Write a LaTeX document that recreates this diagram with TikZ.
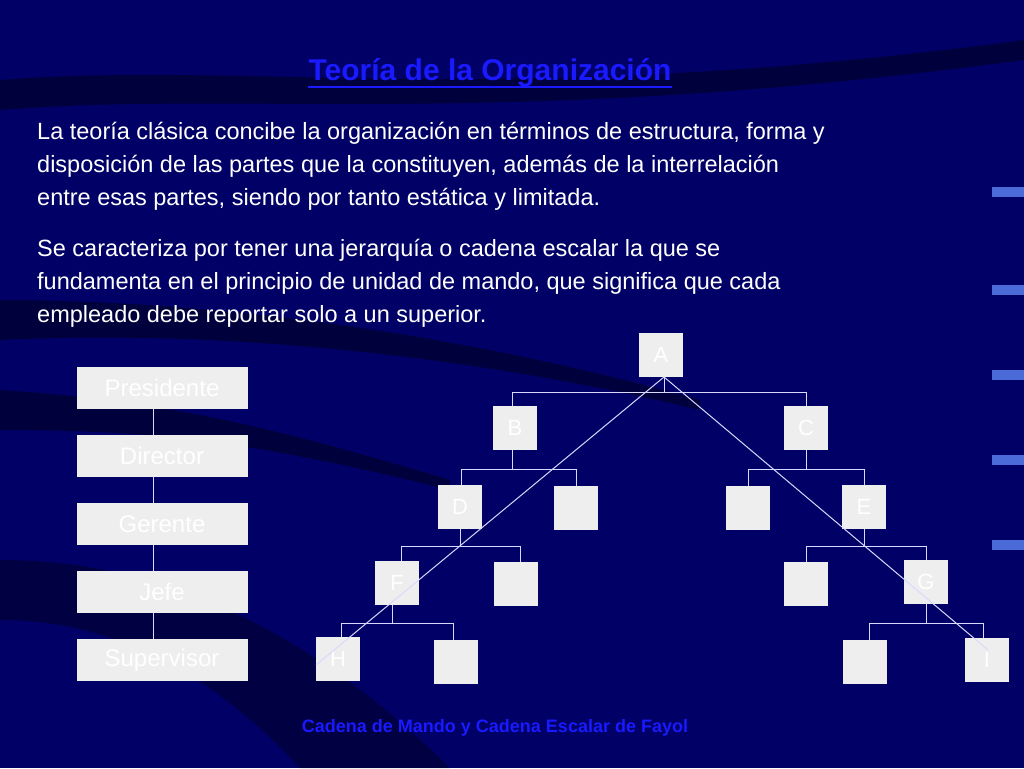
\documentclass[tikz,border=0pt]{standalone}
\usepackage{fontspec}
\setmainfont{Liberation Sans}
\definecolor{bg}{HTML}{000066}
\definecolor{streak}{HTML}{000022}
\definecolor{boxc}{HTML}{EEEEEE}
\definecolor{ttl}{HTML}{1A1AFF}
\definecolor{dashc}{HTML}{4A6BD8}
\begin{document}
\begin{tikzpicture}[x=1pt,y=-1pt,
  sq/.style={fill=boxc,minimum width=44pt,minimum height=44pt,inner sep=0pt,text=white,font=\fontsize{22}{24}\selectfont},
  lb/.style={fill=boxc,minimum width=171pt,minimum height=42pt,inner sep=0pt,text=white,font=\fontsize{24}{26}\selectfont},
  ln/.style={draw=white!85!blue,line width=1pt}]
\useasboundingbox (0,0) rectangle (1024,768);
\fill[bg] (0,0) rectangle (1024,768);
\fill[streak,opacity=0.6] (0,80) .. controls (250,60) and (500,110) .. (1024,40) -- (1024,60) .. controls (500,130) and (250,90) .. (0,110) -- cycle;
\fill[streak,opacity=0.6] (0,300) .. controls (200,300) and (450,330) .. (700,400) -- (700,410) .. controls (450,350) and (200,330) .. (0,340) -- cycle;
\fill[streak,opacity=0.6] (0,390) .. controls (150,400) and (250,420) .. (450,480) -- (450,490) .. controls (250,440) and (150,430) .. (0,430) -- cycle;
\fill[streak,opacity=0.5] (0,560) .. controls (150,560) and (300,620) .. (450,768) -- (300,768) .. controls (200,660) and (100,620) .. (0,620) -- cycle;
\foreach \yy in {192,290,375,460,545}{\fill[fill=dashc] (992,\yy-5) rectangle (1024,\yy+5);}
\node[text=ttl,font=\bfseries\fontsize{30}{32}\selectfont,inner sep=0pt,anchor=base] (title) at (490,81) {Teoría de la Organización};
\path (title.base west) ++(0,6) coordinate (ul1);
\path (title.base east) ++(0,6) coordinate (ul2);
\draw[ttl,line width=2.5pt] (ul1) -- (ul2);
\node[anchor=north west,text=white,align=left,inner sep=0pt,font=\fontsize{23.5}{33}\selectfont] (p1) at (37,122)
 {La teoría clásica concibe la organización en términos de estructura, forma y\\disposición de las partes que la constituyen, además de la interrelación\\entre esas partes, siendo por tanto estática y limitada.};
\node[anchor=north west,text=white,align=left,inner sep=0pt,font=\fontsize{23.5}{33}\selectfont] (p2) at (37,239)
 {Se caracteriza por tener una jerarquía o cadena escalar la que se\\fundamenta en el principio de unidad de mando, que significa que cada\\empleado debe reportar solo a un superior.};
% left chain
\node[lb] (pr) at (162,388) {Presidente};
\node[lb] (di) at (162,456) {Director};
\node[lb] (ge) at (162,524) {Gerente};
\node[lb] (je) at (162,592) {Jefe};
\node[lb] (su) at (162,660) {Supervisor};
\foreach \a/\b in {pr/di,di/ge,ge/je,je/su}{\draw[ln] (\a.south -| 153,0) -- (\b.north -| 153,0);}
% tree connectors first
\coordinate (Ab) at (664,377);
\draw[ln] (664,377) -- (664,392); \draw[ln] (512,406) |- (806,392) -- (806,406);
\draw[ln] (512,450) -- (512,469); \draw[ln] (461,486) |- (576,469) -- (576,486);
\draw[ln] (806,450) -- (806,469); \draw[ln] (748,486) |- (864,469) -- (864,486);
\draw[ln] (460,529) -- (460,546); \draw[ln] (401,561) |- (520,546) -- (520,562);
\draw[ln] (864,529) -- (864,546); \draw[ln] (806,562) |- (926,546) -- (926,560);
\draw[ln] (392,605) -- (392,623); \draw[ln] (341,637) |- (453,623) -- (453,640);
\draw[ln] (926,604) -- (926,623); \draw[ln] (869,640) |- (983,623) -- (983,638);
\node[sq] (A) at (661,355) {A};
\node[sq] (B) at (515,428) {B};
\node[sq] (C) at (806,428) {C};
\node[sq] (D) at (460,507) {D};
\node[sq] (d2) at (576,508) {};
\node[sq] (c1) at (748,508) {};
\node[sq] (E) at (864,507) {E};
\node[sq] (F) at (397,583) {F};
\node[sq] (f2) at (516,584) {};
\node[sq] (e1) at (806,584) {};
\node[sq] (G) at (926,582) {G};
\node[sq] (H) at (338,659) {H};
\node[sq] (h2) at (456,662) {};
\node[sq] (g1) at (865,662) {};
\node[sq] (I) at (987,660) {I};
\coordinate (Lend) at (316,665);
\coordinate (Rend) at (988,650);
\draw[ln] (Ab) -- (Lend);
\draw[ln] (Ab) -- (Rend);
\node[text=ttl,font=\bfseries\fontsize{18}{20}\selectfont] (foot) at (495,728) {Cadena de Mando y Cadena Escalar de Fayol};
\end{tikzpicture}
\end{document}
